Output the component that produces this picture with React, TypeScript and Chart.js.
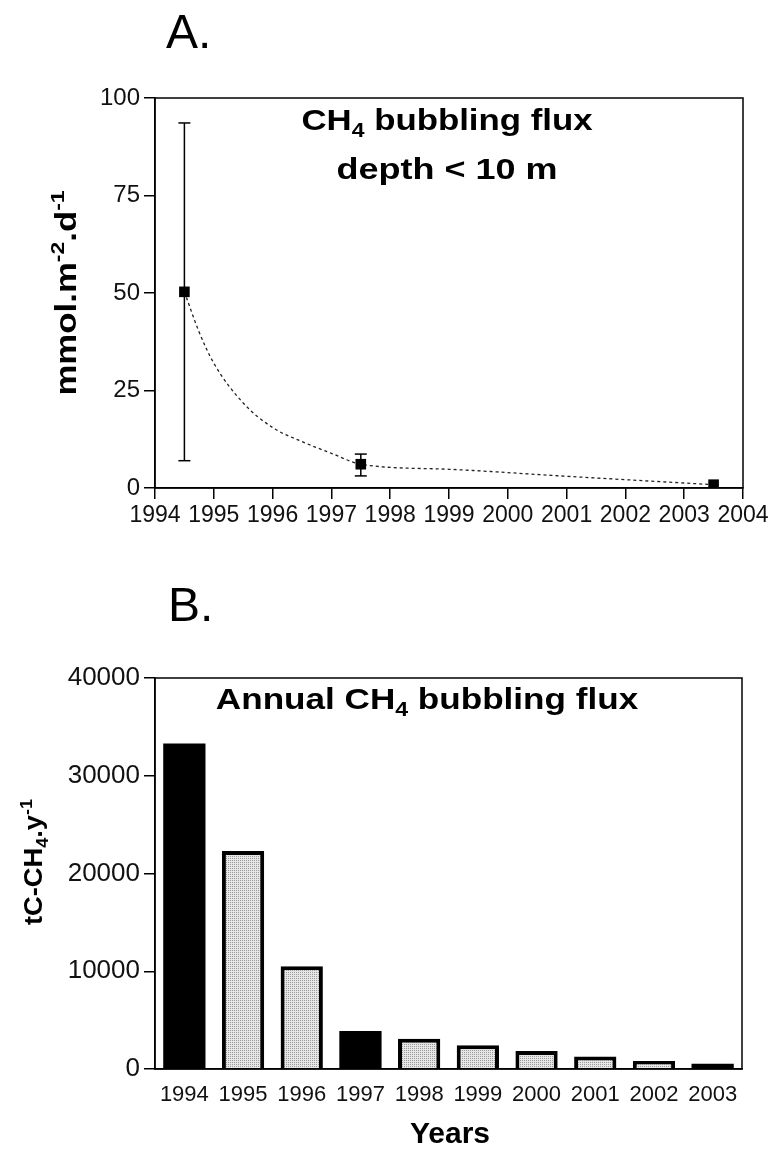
import React, { useEffect, useRef } from "react";
import { Chart, registerables } from "chart.js";

Chart.register(...registerables);

// ---------- Panel A data ----------
const pointYears = [1994.5, 1997.5, 2003.5];
const pointFlux = [50.3, 6.1, 0.85];
const errLow = [7.0, 3.1, null];
const errHigh = [93.6, 8.7, null];
const curveYears = [1994.5, 1994.75, 1995, 1995.5, 1996, 1996.5, 1997, 1997.5, 1999, 2001, 2003.5];
const curveFlux = [50.3, 40, 32, 21.8, 15.5, 11.9, 8.9, 6.1, 4.8, 3.0, 0.85];
const xTicksA = [1994, 1995, 1996, 1997, 1998, 1999, 2000, 2001, 2002, 2003, 2004];
const yTicksA = [0, 25, 50, 75, 100];

// ---------- Panel B data ----------
const barYears = ["1994", "1995", "1996", "1997", "1998", "1999", "2000", "2001", "2002", "2003"];
const barValues = [33300, 22300, 10500, 3880, 3090, 2440, 1830, 1290, 830, 540];
const barBlack = [true, false, false, true, false, false, false, false, false, true];
const yTicksB = [0, 10000, 20000, 30000, 40000];

const FONT = "'Liberation Sans', Arial, Helvetica, sans-serif";

type Part = { t: string; k?: "sup" | "sub" };

function drawRich(
  ctx: CanvasRenderingContext2D,
  parts: Part[],
  x: number,
  y: number,
  size: number,
  opts: { bold?: boolean; rotate?: boolean; sx?: number; align?: "center" | "left" } = {}
) {
  const weight = opts.bold ? "bold " : "";
  const small = size * 0.66;
  ctx.save();
  ctx.translate(x, y);
  if (opts.rotate) ctx.rotate(-Math.PI / 2);
  ctx.scale(opts.sx || 1, 1);
  ctx.fillStyle = "#000";
  ctx.textBaseline = "alphabetic";
  ctx.textAlign = "left";
  const fontFor = (p: Part) => `${weight}${p.k ? small : size}px ${FONT}`;
  let total = 0;
  for (const p of parts) {
    ctx.font = fontFor(p);
    total += ctx.measureText(p.t).width;
  }
  let cx = opts.align === "left" ? 0 : -total / 2;
  for (const p of parts) {
    ctx.font = fontFor(p);
    const dy = p.k === "sup" ? -size * 0.4 : p.k === "sub" ? size * 0.24 : 0;
    ctx.fillText(p.t, cx, dy);
    cx += ctx.measureText(p.t).width;
  }
  ctx.restore();
}

const boxPlugin = {
  id: "boxPlugin",
  afterDraw(chart: any) {
    const { ctx, chartArea } = chart;
    ctx.save();
    ctx.strokeStyle = "#000";
    ctx.lineWidth = 1.5;
    ctx.strokeRect(chartArea.left, chartArea.top, chartArea.right - chartArea.left, chartArea.bottom - chartArea.top);
    ctx.restore();
  },
};

export default function App() {
  const refA = useRef<HTMLCanvasElement | null>(null);
  const refB = useRef<HTMLCanvasElement | null>(null);

  useEffect(() => {
    if (!refA.current || !refB.current) return;

    // ---------- Panel A ----------
    const errDatasets: any[] = [];
    const capPoints: any[] = [];
    pointYears.forEach((yr, i) => {
      const lo = errLow[i];
      const hi = errHigh[i];
      if (lo == null || hi == null) return;
      errDatasets.push({
        type: "line",
        data: [
          { x: yr, y: lo },
          { x: yr, y: hi },
        ],
        borderColor: "#000",
        borderWidth: 1.5,
        pointRadius: 0,
        showLine: true,
      });
      capPoints.push({ x: yr, y: lo }, { x: yr, y: hi });
    });

    const textsA = {
      id: "textsA",
      afterDraw(chart: any) {
        const ctx = chart.ctx;
        drawRich(ctx, [{ t: "A." }], 166, 48, 48, { align: "left" });
        drawRich(ctx, [{ t: "CH" }, { t: "4", k: "sub" }, { t: " bubbling flux" }], 447, 130, 30, { bold: true, sx: 1.16 });
        drawRich(ctx, [{ t: "depth < 10 m" }], 447, 179, 30, { bold: true, sx: 1.2 });
        drawRich(
          ctx,
          [{ t: "mmol.m" }, { t: "-2", k: "sup" }, { t: ".d" }, { t: "-1", k: "sup" }],
          76,
          293,
          29,
          { bold: true, rotate: true, sx: 1.2 }
        );
      },
    };

    const chartA = new Chart(refA.current, {
      type: "scatter",
      data: {
        datasets: [
          {
            data: pointYears.map((x, i) => ({ x, y: pointFlux[i] })),
            pointStyle: "rect",
            pointRadius: 7.5,
            backgroundColor: "#000",
            borderColor: "#000",
            borderWidth: 0,
            showLine: false,
          } as any,
          {
            data: capPoints,
            pointStyle: "line",
            pointRadius: 6,
            borderColor: "#000",
            borderWidth: 1.5,
            showLine: false,
          },
          ...errDatasets,
          {
            type: "line",
            data: curveYears.map((x, i) => ({ x, y: curveFlux[i] })),
            borderColor: "#222",
            borderWidth: 1.3,
            borderDash: [3, 3],
            pointRadius: 0,
            showLine: true,
            cubicInterpolationMode: "monotone",
          },
        ],
      },
      options: {
        animation: false,
        responsive: false,
        devicePixelRatio: 1,
        layout: { padding: { top: 98, right: 30, left: 0, bottom: 0 } },
        plugins: { legend: { display: false }, tooltip: { enabled: false }, title: { display: false } },
        scales: {
          x: {
            type: "linear",
            min: 1994,
            max: 2004,
            afterBuildTicks: (s: any) => {
              s.ticks = xTicksA.map((v) => ({ value: v }));
            },
            afterFit: (s: any) => {
              s.height = 72;
            },
            ticks: {
              color: "#111",
              font: { family: FONT, size: 23 },
              padding: 3,
              maxRotation: 0,
              autoSkip: false,
              callback: (v: any) => String(v),
            },
            grid: { display: true, drawOnChartArea: false, color: "#000", lineWidth: 1.5, tickLength: 11 },
            border: { display: true, color: "#000", width: 1.5 },
          },
          y: {
            type: "linear",
            min: 0,
            max: 100,
            afterBuildTicks: (s: any) => {
              s.ticks = yTicksA.map((v) => ({ value: v }));
            },
            afterFit: (s: any) => {
              s.width = 155;
            },
            ticks: {
              color: "#111",
              font: { family: FONT, size: 24 },
              padding: 4,
              callback: (v: any) => String(v),
            },
            grid: { display: true, drawOnChartArea: false, color: "#000", lineWidth: 1.5, tickLength: 11 },
            border: { display: true, color: "#000", width: 1.5 },
          },
        },
      } as any,
      plugins: [boxPlugin, textsA],
    });

    // ---------- Panel B ----------
    const pc = document.createElement("canvas");
    pc.width = 2;
    pc.height = 2;
    const pctx = pc.getContext("2d")!;
    pctx.fillStyle = "#e6e6e6";
    pctx.fillRect(0, 0, 2, 2);
    pctx.fillStyle = "#9a9a9a";
    pctx.fillRect(0, 0, 1, 1);
    const pattern = refB.current.getContext("2d")!.createPattern(pc, "repeat");

    const OFF = 560;
    const textsB = {
      id: "textsB",
      afterDraw(chart: any) {
        const ctx = chart.ctx;
        drawRich(ctx, [{ t: "B." }], 168, 621 - OFF, 48, { align: "left" });
        drawRich(
          ctx,
          [{ t: "Annual CH" }, { t: "4", k: "sub" }, { t: " bubbling flux" }],
          427,
          709 - OFF,
          30,
          { bold: true, sx: 1.17 }
        );
        drawRich(ctx, [{ t: "Years" }], 450, 1143 - OFF, 30, { bold: true });
        drawRich(
          ctx,
          [{ t: "tC-CH" }, { t: "4", k: "sub" }, { t: ".y" }, { t: "-1", k: "sup" }],
          42,
          862 - OFF,
          26,
          { bold: true, rotate: true, sx: 1.05 }
        );
      },
    };

    const chartB = new Chart(refB.current, {
      type: "bar",
      data: {
        labels: barYears,
        datasets: [
          {
            data: barValues,
            backgroundColor: barBlack.map((b) => (b ? "#000" : pattern)) as any,
            borderColor: "#000",
            borderWidth: barBlack.map((b) => (b ? 0 : 4)),
            borderSkipped: "start",
            barPercentage: 0.72,
            categoryPercentage: 1,
          },
        ],
      },
      options: {
        animation: false,
        responsive: false,
        devicePixelRatio: 1,
        layout: { padding: { top: 118, right: 31, left: 0, bottom: 0 } },
        plugins: { legend: { display: false }, tooltip: { enabled: false }, title: { display: false } },
        scales: {
          x: {
            afterFit: (s: any) => {
              s.height = 81;
            },
            ticks: {
              color: "#111",
              font: { family: FONT, size: 22 },
              padding: 13,
              maxRotation: 0,
              autoSkip: false,
            },
            grid: { display: false, drawTicks: false },
            border: { display: true, color: "#000", width: 1.5 },
          },
          y: {
            type: "linear",
            min: 0,
            max: 40000,
            afterBuildTicks: (s: any) => {
              s.ticks = yTicksB.map((v) => ({ value: v }));
            },
            afterFit: (s: any) => {
              s.width = 155;
            },
            ticks: {
              color: "#111",
              font: { family: FONT, size: 26 },
              padding: 4,
              callback: (v: any) => String(v),
            },
            grid: { display: true, drawOnChartArea: false, color: "#000", lineWidth: 1.5, tickLength: 11 },
            border: { display: true, color: "#000", width: 1.5 },
          },
        },
      } as any,
      plugins: [boxPlugin, textsB],
    });

    return () => {
      chartA.destroy();
      chartB.destroy();
    };
  }, []);

  return (
    <div style={{ position: "absolute", left: 0, top: 0, width: 773, height: 1150, background: "#fff" }}>
      <canvas
        ref={refA}
        width={773}
        height={560}
        style={{ position: "absolute", left: 0, top: 0, width: 773, height: 560 }}
      />
      <canvas
        ref={refB}
        width={773}
        height={590}
        style={{ position: "absolute", left: 0, top: 560, width: 773, height: 590 }}
      />
    </div>
  );
}
